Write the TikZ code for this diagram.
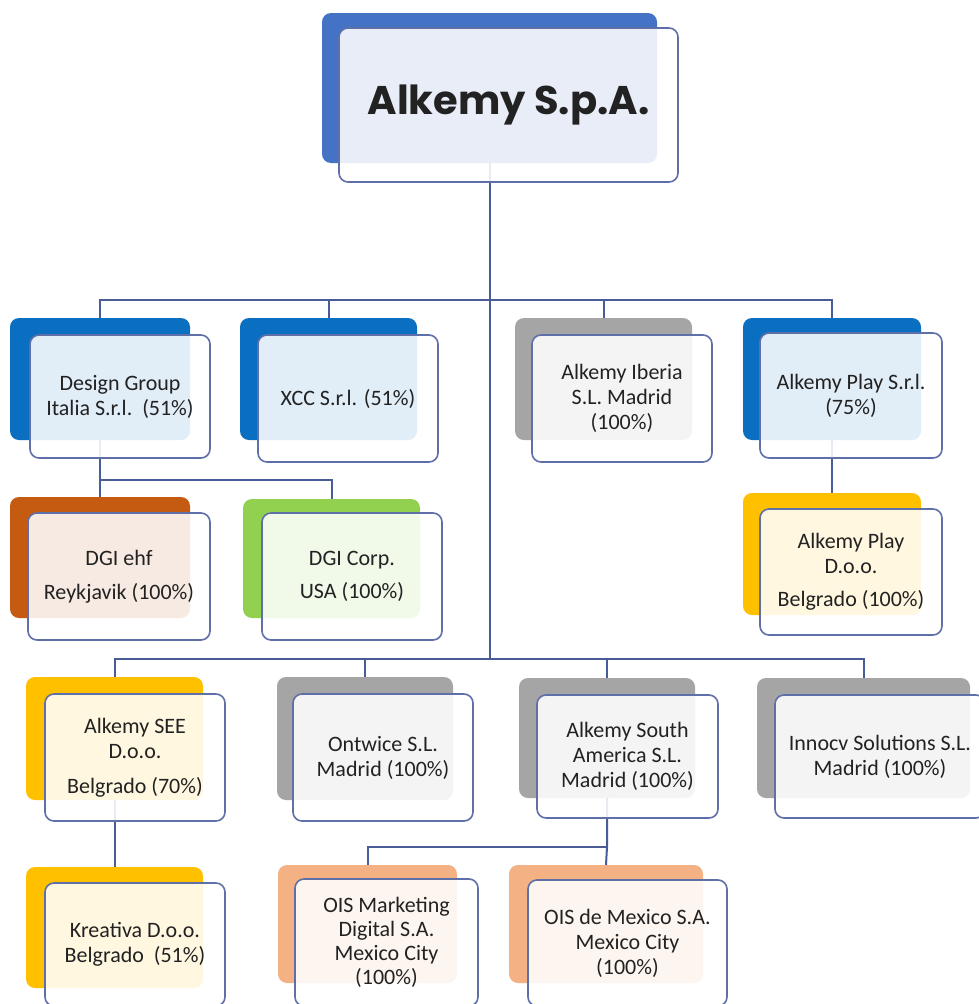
\documentclass[tikz,border=0pt]{standalone}
\usepackage{fontspec}
\setmainfont{Carlito}
\newfontfamily\titlefont{Poppins}
\definecolor{titleblue}{HTML}{4472C4}
\definecolor{dblue}{HTML}{0A6FC0}
\definecolor{mgray}{HTML}{A5A5A5}
\definecolor{morange}{HTML}{C55A11}
\definecolor{mgreen}{HTML}{92D050}
\definecolor{myellow}{HTML}{FFC000}
\definecolor{msalmon}{HTML}{F4B183}
\definecolor{connline}{HTML}{4A5C98}
\definecolor{boxline}{HTML}{5F6FA8}
\definecolor{txt}{HTML}{222222}
\newcommand\boxnode[7]{%
  \node[#1, minimum width={(#5-#3)*1pt}, minimum height={(#6-#4)*1pt}] (#2) at ({(#3+#5)/2},{(#4+#6)/2}) {#7};}
\begin{document}
\begin{tikzpicture}[x=1pt,y=-1pt,
  backbox/.style={rectangle, rounded corners=9pt, inner sep=0pt, outer sep=0pt, draw=none},
  frontbox/.style={rectangle, draw=boxline, line width=1.6pt, rounded corners=9pt, fill=white, fill opacity=0.88, text opacity=1, inner sep=0pt, outer sep=0pt, align=center, font=\fontsize{22}{25}\selectfont, text=txt},
  conn/.style={draw=connline, line width=2pt}]
\useasboundingbox (0,0) rectangle (979,1004);
\fill[white] (0,0) rectangle (979,1004);
\clip (0,0) rectangle (979,1004);
% back boxes
\boxnode{backbox, fill=titleblue}{titleB}{322}{13}{657}{163}{}
\boxnode{backbox, fill=dblue}{dgB}{10}{318}{190}{440}{}
\boxnode{backbox, fill=dblue}{xccB}{240}{318}{417}{440}{}
\boxnode{backbox, fill=mgray}{ibB}{515}{318}{692}{440}{}
\boxnode{backbox, fill=dblue}{psB}{743}{318}{921}{440}{}
\boxnode{backbox, fill=morange}{ehfB}{10}{497}{190}{618}{}
\boxnode{backbox, fill=mgreen}{corpB}{243}{499}{420}{618}{}
\boxnode{backbox, fill=myellow}{pdB}{743}{493}{921}{615}{}
\boxnode{backbox, fill=myellow}{seeB}{26}{677}{203}{800}{}
\boxnode{backbox, fill=mgray}{ontB}{277}{677}{453}{800}{}
\boxnode{backbox, fill=mgray}{saB}{519}{678}{695}{798}{}
\boxnode{backbox, fill=mgray}{innB}{757}{678}{970}{798}{}
\boxnode{backbox, fill=myellow}{kreB}{26}{867}{203}{988}{}
\boxnode{backbox, fill=msalmon}{mktB}{278}{865}{457}{983}{}
\boxnode{backbox, fill=msalmon}{mexB}{509}{865}{703}{983}{}
% connectors
\coordinate (j1) at (titleB.south |- 0,300);
\coordinate (j2) at (titleB.south |- 0,659);
\coordinate (j3) at (dgB.south |- 0,480);
\coordinate (j4) at (saB.south |- 0,847);
\draw[conn] (titleB.south) -- (j2);
\draw[conn] (j1) -| (dgB.north);
\draw[conn] (j1) -| (xccB.north);
\draw[conn] (j1) -| (ibB.north);
\draw[conn] (j1) -| (psB.north);
\draw[conn] (j2) -| (seeB.north);
\draw[conn] (j2) -| (ontB.north);
\draw[conn] (j2) -| (saB.north);
\draw[conn] (j2) -| (innB.north);
\draw[conn] (dgB.south) -- (j3) -- (ehfB.north);
\draw[conn] (j3) -| (corpB.north);
\draw[conn] (psB.south) -- (pdB.north);
\draw[conn] (seeB.south) -- (kreB.north);
\draw[conn] (saB.south) -- (j4) -- (mexB.north);
\draw[conn] (j4) -| (mktB.north);
% front boxes
\boxnode{frontbox, font=\titlefont\bfseries\fontsize{40}{44}\selectfont}{title}{339}{28}{678}{182}{Alkemy S.p.A.}
\boxnode{frontbox}{dg}{30}{335}{210}{458}{Design Group\\Italia S.r.l.\ \ (51\%)}
\boxnode{frontbox}{xcc}{258}{335}{438}{462}{XCC S.r.l. (51\%)}
\boxnode{frontbox}{ib}{532}{335}{712}{462}{Alkemy Iberia\\S.L. Madrid\\(100\%)}
\boxnode{frontbox}{ps}{760}{333}{942}{458}{Alkemy Play S.r.l.\\(75\%)}
\boxnode{frontbox}{ehf}{28}{513}{210}{640}{DGI ehf\\[9pt]Reykjavik (100\%)}
\boxnode{frontbox}{corp}{262}{513}{442}{640}{DGI Corp.\\[8pt]USA (100\%)}
\boxnode{frontbox}{pd}{760}{509}{942}{635}{Alkemy Play\\D.o.o.\\[8pt]Belgrado (100\%)}
\boxnode{frontbox}{see}{45}{694}{225}{821}{Alkemy SEE\\D.o.o.\\[10pt]Belgrado (70\%)}
\boxnode{frontbox}{ont}{293}{694}{473}{821}{Ontwice S.L.\\Madrid (100\%)}
\boxnode{frontbox}{sa}{537}{695}{718}{818}{Alkemy South\\America S.L.\\Madrid (100\%)}
\boxnode{frontbox}{inn}{775}{695}{985}{818}{Innocv Solutions S.L.\\Madrid (100\%)}
\boxnode{frontbox}{kre}{45}{883}{225}{1006}{Kreativa D.o.o.\\Belgrado\ \ (51\%)}
\boxnode{frontbox, font=\fontsize{22}{24}\selectfont}{mkt}{295}{879}{478}{1006}{OIS Marketing\\Digital S.A.\\Mexico City\\(100\%)}
\boxnode{frontbox}{mex}{528}{880}{727}{1006}{OIS de Mexico S.A.\\Mexico City\\(100\%)}
\end{tikzpicture}
\end{document}
